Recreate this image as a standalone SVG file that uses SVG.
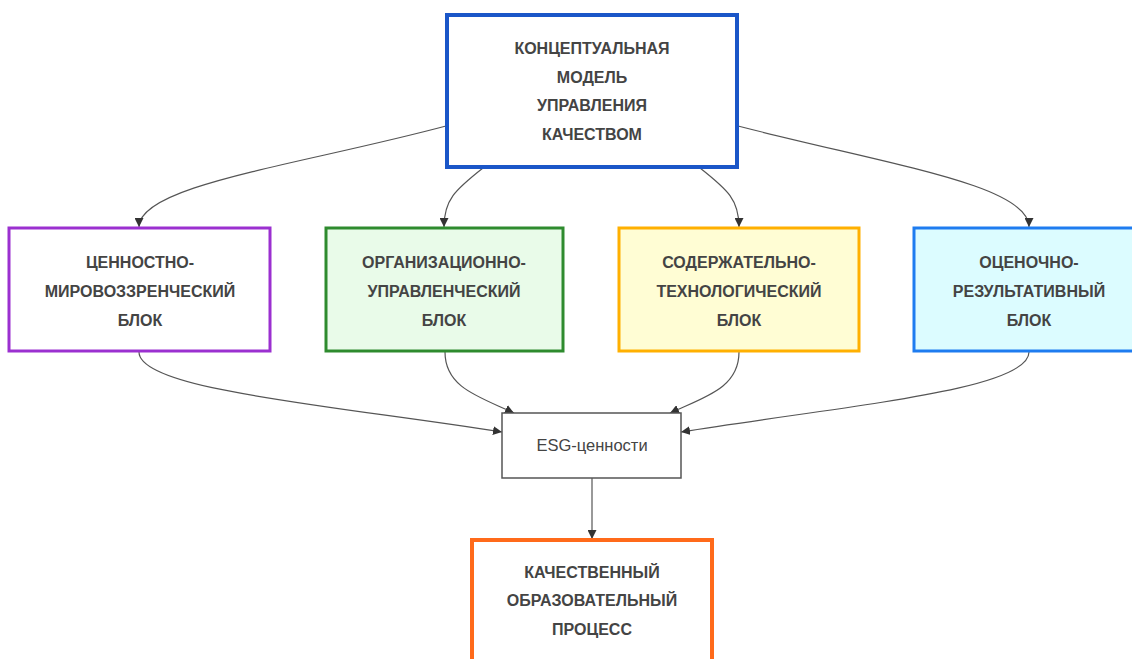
<svg xmlns="http://www.w3.org/2000/svg" width="1132" height="659" viewBox="0 0 1132 659">
<defs>
<marker id="arr" viewBox="0 0 10 10" refX="10" refY="5" markerWidth="9" markerHeight="9" markerUnits="userSpaceOnUse" orient="auto">
<path d="M0,0 L10,5 L0,10 z" fill="#333"/>
</marker>
<style>
.lbl{font-family:"Liberation Sans",Arial,sans-serif;font-size:16px;font-weight:bold;fill:#444;text-anchor:middle;dominant-baseline:central}
.esg{font-family:"Liberation Sans",Arial,sans-serif;font-size:16.5px;fill:#444;text-anchor:middle;dominant-baseline:central}
.edge{fill:none;stroke:#555;stroke-width:1.2;marker-end:url(#arr)}
</style>
</defs>
<rect width="1132" height="659" fill="#fff"/>
<g id="connectors">
<path class="edge" d="M446,126 C300,165 139,185 139,227"/>
<path class="edge" d="M483,168 C455,190 444,200 444,227"/>
<path class="edge" d="M700,168 C728,190 739,200 739,227"/>
<path class="edge" d="M738,126 C890,165 1029,185 1029,227"/>
<path class="edge" d="M139,352 C139,390 330,405 502,432"/>
<path class="edge" d="M445,352 C445,388 480,397 514,413"/>
<path class="edge" d="M739,352 C739,388 705,397 670,413"/>
<path class="edge" d="M1029,352 C1029,390 850,405 681,432"/>
<path class="edge" d="M592,478 L592,539"/>
</g>
<g id="top">
<rect x="447" y="15" width="290" height="152" fill="#fff" stroke="#1a56c8" stroke-width="4"/>
<text class="lbl" x="592" y="48">КОНЦЕПТУАЛЬНАЯ</text>
<text class="lbl" x="592" y="77">МОДЕЛЬ</text>
<text class="lbl" x="592" y="105">УПРАВЛЕНИЯ</text>
<text class="lbl" x="592" y="134">КАЧЕСТВОМ</text>
</g>
<g id="b1">
<rect x="9" y="228" width="261" height="123" fill="#fff" stroke="#9b30d0" stroke-width="3"/>
<text class="lbl" x="140" y="262">ЦЕННОСТНО-</text>
<text class="lbl" x="140" y="291">МИРОВОЗЗРЕНЧЕСКИЙ</text>
<text class="lbl" x="140" y="320">БЛОК</text>
</g>
<g id="b2">
<rect x="326" y="228" width="237" height="123" fill="#e9fbe9" stroke="#2e8b2e" stroke-width="3"/>
<text class="lbl" x="444" y="262">ОРГАНИЗАЦИОННО-</text>
<text class="lbl" x="444" y="291">УПРАВЛЕНЧЕСКИЙ</text>
<text class="lbl" x="444" y="320">БЛОК</text>
</g>
<g id="b3">
<rect x="619" y="228" width="240" height="123" fill="#fffdd4" stroke="#ffb000" stroke-width="3"/>
<text class="lbl" x="739" y="262">СОДЕРЖАТЕЛЬНО-</text>
<text class="lbl" x="739" y="291">ТЕХНОЛОГИЧЕСКИЙ</text>
<text class="lbl" x="739" y="320">БЛОК</text>
</g>
<g id="b4">
<rect x="914" y="228" width="232" height="123" fill="#dcfcff" stroke="#1e7cf0" stroke-width="3"/>
<text class="lbl" x="1029" y="262">ОЦЕНОЧНО-</text>
<text class="lbl" x="1029" y="291">РЕЗУЛЬТАТИВНЫЙ</text>
<text class="lbl" x="1029" y="320">БЛОК</text>
</g>
<g id="esg">
<rect x="502" y="413" width="179" height="65" fill="#fff" stroke="#555" stroke-width="1.5"/>
<text class="esg" x="592" y="445">ESG-ценности</text>
</g>
<g id="bottom">
<rect x="472" y="540" width="240" height="130" fill="#fff" stroke="#ff6a1a" stroke-width="4"/>
<text class="lbl" x="592" y="572">КАЧЕСТВЕННЫЙ</text>
<text class="lbl" x="592" y="600">ОБРАЗОВАТЕЛЬНЫЙ</text>
<text class="lbl" x="592" y="629">ПРОЦЕСС</text>
</g>
</svg>
